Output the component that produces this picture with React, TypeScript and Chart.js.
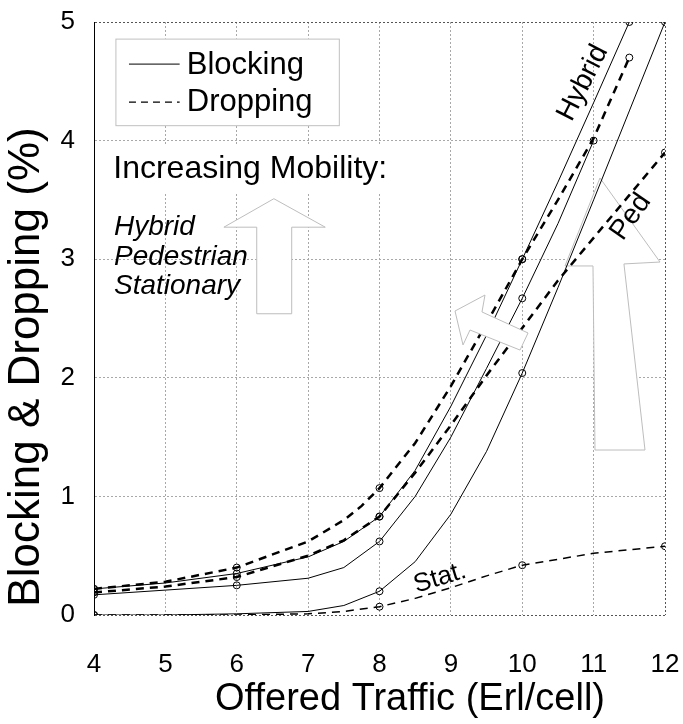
import React, { useEffect, useRef } from "react";
import { Chart, registerables } from "chart.js";
Chart.register(...registerables);

const FONT = "'Liberation Sans', Arial, Helvetica, sans-serif";

const xTicks = [4, 5, 6, 7, 8, 9, 10, 11, 12];
const yTicks = [0, 1, 2, 3, 4, 5];
const xTitle = "Offered Traffic (Erl/cell)";
const yTitle = "Blocking & Dropping (%)";

// Hybrid
const hybBlockX = [4, 5, 6, 7, 7.5, 8, 8.5, 9, 9.5, 10, 10.5, 11, 11.5];
const hybBlockY = [0.22, 0.27, 0.35, 0.49, 0.62, 0.83, 1.22, 1.76, 2.36, 3.0, 3.65, 4.32, 5.0];
const hybBlockMarks = [4, 6, 8, 10, 11.5];

const hybDropX = [4, 5, 6, 7, 7.5, 7.75, 8, 8.5, 9, 9.5, 10, 10.5, 11, 11.5];
const hybDropY = [0.22, 0.28, 0.4, 0.62, 0.8, 0.92, 1.07, 1.45, 1.93, 2.46, 3.0, 3.5, 4.02, 4.7];
const hybDropMarks = [4, 6, 8, 10, 11.5];

// Pedestrian
const pedBlockX = [4, 5, 6, 7, 7.5, 8, 8.5, 9, 9.5, 10, 10.5, 11];
const pedBlockY = [0.17, 0.21, 0.25, 0.31, 0.4, 0.62, 1.0, 1.5, 2.08, 2.67, 3.3, 4.0];
const pedBlockMarks = [4, 6, 8, 10, 11];

const pedDropX = [4, 5, 6, 7, 7.5, 8, 8.5, 9, 9.5, 10, 10.5, 11, 11.5, 12];
const pedDropY = [0.19, 0.24, 0.32, 0.5, 0.63, 0.83, 1.2, 1.6, 2.02, 2.42, 2.82, 3.18, 3.54, 3.9];
const pedDropMarks = [4, 6, 8, 12];

// Stationary
const statBlockX = [4, 5, 6, 7, 7.5, 8, 8.5, 9, 9.5, 10, 10.5, 11, 11.5, 12];
const statBlockY = [0, 0, 0.01, 0.03, 0.08, 0.2, 0.45, 0.85, 1.38, 2.04, 2.76, 3.5, 4.25, 5.0];
const statBlockMarks = [4, 8, 10, 12];

const statDropX = [4, 5, 6, 7, 7.5, 8, 8.5, 9, 9.5, 10, 11, 12];
const statDropY = [0, 0, 0, 0.01, 0.03, 0.07, 0.14, 0.23, 0.33, 0.42, 0.52, 0.58];
const statDropMarks = [4, 8, 10, 12];

const legendLabels = ["Blocking", "Dropping"];
const mobilityTitle = "Increasing Mobility:";
const mobilityList = ["Hybrid", "Pedestrian", "Stationary"];

function series(label: string, xs: number[], ys: number[], marks: number[], dashed: boolean, width: number) {
  return {
    label,
    data: xs.map((x, i) => ({ x, y: ys[i] })),
    borderColor: "#000",
    borderWidth: width,
    borderDash: dashed ? [8, 6] : [],
    pointRadius: xs.map((x) => (marks.includes(x) ? 3.5 : 0)),
    pointBorderColor: "#000",
    pointBackgroundColor: "rgba(255,255,255,0)",
    pointBorderWidth: 1,
    fill: false,
    tension: 0,
  };
}

function drawPoly(chart: any, pts: number[][]) {
  const { ctx } = chart;
  const px = (v: number) => chart.scales.x.getPixelForValue(v);
  const py = (v: number) => chart.scales.y.getPixelForValue(v);
  ctx.save();
  ctx.beginPath();
  pts.forEach(([x, y], i) => (i === 0 ? ctx.moveTo(px(x), py(y)) : ctx.lineTo(px(x), py(y))));
  ctx.closePath();
  ctx.fillStyle = "#fff";
  ctx.fill();
  ctx.strokeStyle = "#bdbdbd";
  ctx.lineWidth = 1;
  ctx.stroke();
  ctx.restore();
}

const decorations = {
  id: "decorations",
  beforeDatasetsDraw(chart: any) {
    // tall arrow at the right, beneath the curves
    drawPoly(chart, [
      [11.089, 3.685],
      [11.93, 2.976],
      [11.425, 2.96],
      [11.72, 1.391],
      [11.019, 1.391],
      [10.991, 2.943],
      [10.599, 2.943],
    ]);
  },
  afterDatasetsDraw(chart: any) {
    const { ctx } = chart;
    const xs = chart.scales.x;
    const ys = chart.scales.y;
    const px = (v: number) => xs.getPixelForValue(v);
    const py = (v: number) => ys.getPixelForValue(v);
    // left vertical arrow
    drawPoly(chart, [
      [6.52, 3.51],
      [7.24, 3.27],
      [6.77, 3.27],
      [6.77, 2.54],
      [6.28, 2.54],
      [6.28, 3.27],
      [5.82, 3.27],
    ]);
    // tilted left arrow
    drawPoly(chart, [
      [9.058, 2.563],
      [9.478, 2.698],
      [9.436, 2.555],
      [10.081, 2.378],
      [9.969, 2.234],
      [9.268, 2.403],
      [9.17, 2.277],
    ]);

    ctx.save();
    // legend box
    const lx0 = px(4.3), lx1 = px(7.43);
    const ly0 = py(4.86), ly1 = py(4.13);
    ctx.fillStyle = "#fff";
    ctx.fillRect(lx0, ly0, lx1 - lx0, ly1 - ly0);
    ctx.strokeStyle = "#c0c0c0";
    ctx.lineWidth = 1;
    ctx.strokeRect(lx0 + 0.5, ly0 + 0.5, lx1 - lx0, ly1 - ly0);
    ctx.strokeStyle = "#000";
    ctx.beginPath();
    ctx.moveTo(px(4.49), py(4.645));
    ctx.lineTo(px(5.2), py(4.645));
    ctx.stroke();
    ctx.setLineDash([7, 5]);
    ctx.lineWidth = 1.3;
    ctx.beginPath();
    ctx.moveTo(px(4.49), py(4.325));
    ctx.lineTo(px(5.2), py(4.325));
    ctx.stroke();
    ctx.setLineDash([]);
    ctx.fillStyle = "#000";
    ctx.font = `31px ${FONT}`;
    ctx.textBaseline = "alphabetic";
    ctx.fillText(legendLabels[0], px(5.3), py(4.56));
    ctx.fillText(legendLabels[1], px(5.3), py(4.25));

    // mobility text with white background
    ctx.font = `32px ${FONT}`;
    const mw = ctx.measureText(mobilityTitle).width;
    ctx.fillStyle = "#fff";
    ctx.fillRect(px(4.24), py(3.97), mw + 8, py(3.55) - py(3.97));
    ctx.fillStyle = "#000";
    ctx.fillText(mobilityTitle, px(4.27), py(3.685));
    ctx.font = `italic 28px ${FONT}`;
    const base = [3.203, 2.95, 2.705];
    mobilityList.forEach((t, i) => ctx.fillText(t, px(4.28), py(base[i])));

    const rotText = (t: string, x: number, y: number, ang: number, size: number) => {
      ctx.save();
      ctx.translate(px(x), py(y));
      ctx.rotate((ang * Math.PI) / 180);
      ctx.font = `${size}px ${FONT}`;
      ctx.textAlign = "center";
      ctx.textBaseline = "middle";
      ctx.fillStyle = "#000";
      ctx.fillText(t, 0, 0);
      ctx.restore();
    };
    rotText("Hybrid", 10.85, 4.486, -63, 28);
    rotText("Ped", 11.52, 3.356, -55, 28);
    rotText("Stat.", 8.848, 0.312, -17, 26);
    ctx.restore();
  },
  afterDraw(chart: any) {
    const { ctx, chartArea } = chart;
    ctx.save();
    ctx.fillStyle = "#000";
    ctx.textAlign = "center";
    ctx.textBaseline = "middle";
    // x title
    ctx.font = `38px ${FONT}`;
    ctx.fillText(xTitle, chartArea.left + 316, chart.height - 24);
    // y title
    ctx.translate(27, chartArea.top + 345);
    ctx.rotate(-Math.PI / 2);
    ctx.font = `44px ${FONT}`;
    ctx.fillText(yTitle, 0, 0);
    ctx.restore();
  },
};

const gridColor = (edge: number[]) => (c: any) =>
  c.tick && edge.includes(c.tick.value) ? "#555" : "#a8a8a8";

export default function App() {
  const ref = useRef<HTMLCanvasElement>(null);
  useEffect(() => {
    document.body.style.margin = "0";
    const canvas = ref.current!;
    const chart = new Chart(canvas, {
      type: "line",
      data: {
        datasets: [
          series("Hybrid blocking", hybBlockX, hybBlockY, hybBlockMarks, false, 1),
          series("Hybrid dropping", hybDropX, hybDropY, hybDropMarks, true, 2.5),
          series("Pedestrian blocking", pedBlockX, pedBlockY, pedBlockMarks, false, 1),
          series("Pedestrian dropping", pedDropX, pedDropY, pedDropMarks, true, 2.5),
          series("Stationary blocking", statBlockX, statBlockY, statBlockMarks, false, 1),
          series("Stationary dropping", statDropX, statDropY, statDropMarks, true, 1.5),
        ] as any,
      },
      options: {
        animation: false,
        responsive: false,
        devicePixelRatio: 1,
        layout: { padding: { top: 22, right: 18, left: 0, bottom: 0 } },
        plugins: { legend: { display: false }, tooltip: { enabled: false } },
        scales: {
          x: {
            type: "linear",
            min: 4,
            max: 12,
            afterFit: (s: any) => {
              s.height = 109;
            },
            afterBuildTicks: (s: any) => {
              s.ticks = xTicks.map((v) => ({ value: v }));
            },
            ticks: { font: { family: FONT, size: 26 }, color: "#000", padding: 2 },
            grid: {
              color: gridColor([4, 12]),
              lineWidth: 1,
              drawTicks: true,
              tickLength: 32,
              tickColor: "rgba(0,0,0,0)",
            },
            border: { display: false, dash: [2, 2] },
            title: { display: false },
          },
          y: {
            min: 0,
            max: 5,
            afterFit: (s: any) => {
              s.width = 94;
            },
            afterBuildTicks: (s: any) => {
              s.ticks = yTicks.map((v) => ({ value: v }));
            },
            ticks: { font: { family: FONT, size: 26 }, color: "#000", padding: 2 },
            grid: {
              color: gridColor([0, 5]),
              lineWidth: 1,
              drawTicks: true,
              tickLength: 17,
              tickColor: "rgba(0,0,0,0)",
            },
            border: { display: true, color: "#000", width: 1, dash: [2, 2] },
            title: { display: false },
          },
        },
      } as any,
      plugins: [decorations],
    });
    return () => chart.destroy();
  }, []);
  return (
    <div style={{ width: 683, height: 724 }}>
      <canvas ref={ref} width={683} height={724} style={{ width: 683, height: 724, display: "block" }} />
    </div>
  );
}
